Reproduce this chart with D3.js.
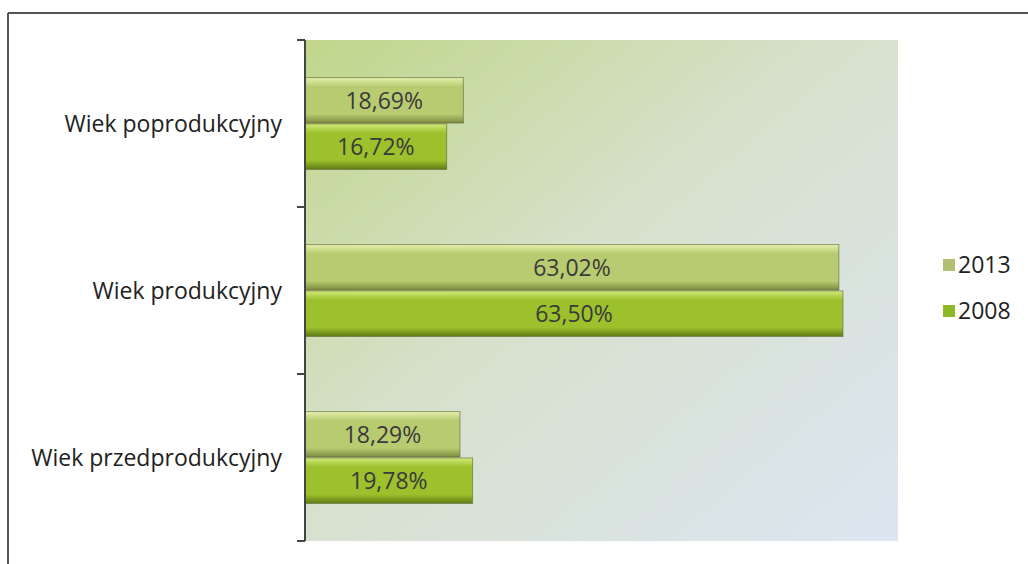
<!DOCTYPE html>
<html><head><meta charset="utf-8">
<script src="https://cdn.jsdelivr.net/npm/d3@7"></script>
<style>body{margin:0;background:#fff;} svg{display:block;}</style>
</head><body>
<svg id="c" width="1028" height="564"></svg>
<script>
const categories = ["Wiek poprodukcyjny", "Wiek produkcyjny", "Wiek przedprodukcyjny"];
const seriesNames = ["2013", "2008"];
const values2013 = [18.69, 63.02, 18.29];
const values2008 = [16.72, 63.50, 19.78];
const labels2013 = ["18,69%", "63,02%", "18,29%"];
const labels2008 = ["16,72%", "63,50%", "19,78%"];

const svg = d3.select("#c");
const font = "'Open Sans', Lato, sans-serif";
const plot = {left: 305, right: 898, top: 40, bottom: 541};

const defs = svg.append("defs");
const bg = defs.append("linearGradient").attr("id","bg").attr("x1","0").attr("y1","0").attr("x2","1").attr("y2","1");
bg.append("stop").attr("offset","0").attr("stop-color","#c0d68a");
bg.append("stop").attr("offset","0.45").attr("stop-color","#d6e1cc");
bg.append("stop").attr("offset","1").attr("stop-color","#dde5f2");

function barGrad(id, top, mid, bot) {
  const g = defs.append("linearGradient").attr("id", id).attr("x1","0").attr("y1","0").attr("x2","0").attr("y2","1");
  g.append("stop").attr("offset","0").attr("stop-color", top);
  g.append("stop").attr("offset","0.2").attr("stop-color", mid);
  g.append("stop").attr("offset","0.8").attr("stop-color", mid);
  g.append("stop").attr("offset","1").attr("stop-color", bot);
}
barGrad("g2013", "#e6f0ae", "#b9cb70", "#7c8a40");
barGrad("g2008", "#d2ea7c", "#9cc12c", "#5f7a14");
const fills = {"2013": "url(#g2013)", "2008": "url(#g2008)"};
const legendFills = {"2013": "#b0c070", "2008": "#8fb828"};

// outer frame
svg.append("line").attr("x1",8).attr("y1",13).attr("x2",1028).attr("y2",13).attr("stroke","#555").attr("stroke-width",2);
svg.append("line").attr("x1",8).attr("y1",13).attr("x2",8).attr("y2",564).attr("stroke","#555").attr("stroke-width",2);

const x = d3.scaleLinear().domain([0, 70]).range([plot.left, plot.right]);
const y = d3.scaleBand().domain(categories).range([plot.top, plot.bottom]).paddingInner(0.45).paddingOuter(0.225);
const yInner = d3.scaleBand().domain(seriesNames).range([0, y.bandwidth()]).paddingInner(0.02);

svg.append("rect").attr("x", plot.left).attr("y", plot.top).attr("width", plot.right - plot.left).attr("height", plot.bottom - plot.top).attr("fill","url(#bg)");

const data = categories.map((c,i) => ({cat:c, vals:[
  {s:"2013", v:values2013[i], l:labels2013[i]},
  {s:"2008", v:values2008[i], l:labels2008[i]}]}));

const groups = svg.selectAll("g.cat").data(data).join("g").attr("class","cat")
  .attr("transform", d => `translate(0,${y(d.cat)})`);
groups.selectAll("rect").data(d => d.vals).join("rect")
  .attr("x", x(0)).attr("y", d => yInner(d.s))
  .attr("width", d => x(d.v) - x(0)).attr("height", yInner.bandwidth())
  .attr("fill", d => fills[d.s]).attr("stroke","#5a6630").attr("stroke-width",1).attr("stroke-opacity",0.6);
groups.selectAll("text").data(d => d.vals).join("text")
  .attr("x", d => (x(0) + x(d.v)) / 2).attr("y", d => yInner(d.s) + yInner.bandwidth()/2)
  .attr("dy","0.36em").attr("text-anchor","middle")
  .attr("font-family", font).attr("font-size", 23).attr("fill","#3a3a3a").text(d => d.l);

// category axis
const yAxisScale = d3.scalePoint().domain([0,1,2,3]).range([plot.top, plot.bottom]);
const ax = svg.append("g");
ax.append("line").attr("x1",plot.left).attr("x2",plot.left).attr("y1",plot.top).attr("y2",plot.bottom).attr("stroke","#444").attr("stroke-width",2);
ax.selectAll("line.t").data([0,1,2,3]).join("line").attr("class","t")
  .attr("x1", plot.left - 8).attr("x2", plot.left).attr("y1", d => yAxisScale(d)).attr("y2", d => yAxisScale(d))
  .attr("stroke","#444").attr("stroke-width",2);
ax.selectAll("text").data(categories).join("text")
  .attr("x", 282).attr("y", d => y(d) + y.bandwidth()/2).attr("dy","0.36em").attr("text-anchor","end")
  .attr("font-family", font).attr("font-size", 23).attr("fill","#222").text(d => d);

// legend
const lg = svg.append("g");
seriesNames.forEach((s,i) => {
  const yy = 265 + i*46;
  lg.append("rect").attr("x", 943).attr("y", yy - 6).attr("width", 12).attr("height", 12).attr("fill", legendFills[s]);
  lg.append("text").attr("x", 958).attr("y", yy).attr("dy","0.36em").attr("font-family", font).attr("font-size", 23).attr("fill","#222").text(s);
});
</script>
</body></html>
